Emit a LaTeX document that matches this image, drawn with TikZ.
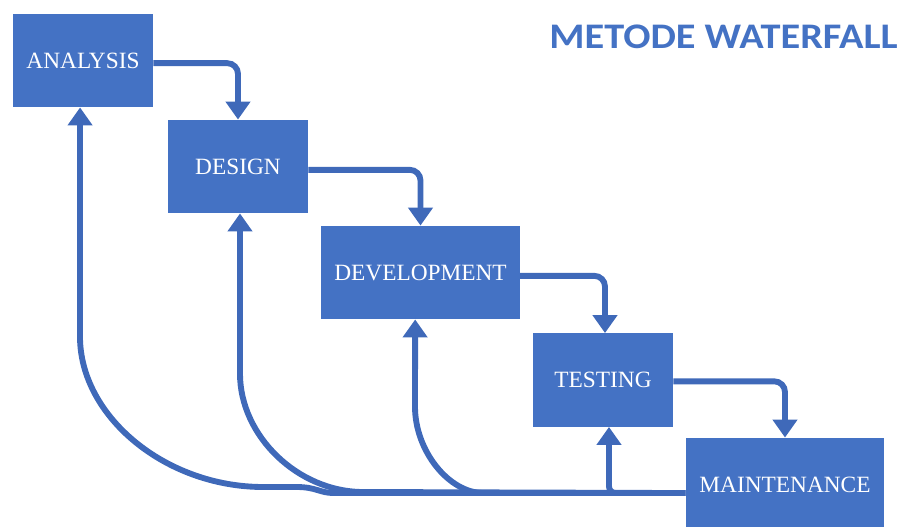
\documentclass[tikz,border=0pt]{standalone}
\usepackage{fontspec}
\setmainfont{Liberation Serif}
\newfontfamily\titlefont{Carlito}
\usepackage{tikz}
\usetikzlibrary{arrows.meta}

\definecolor{boxblue}{HTML}{4472C4}
\definecolor{lineblue}{HTML}{3F69B9}

\begin{document}
\begin{tikzpicture}[x=0.75pt,y=0.75pt,yscale=-1,xscale=1,
  phase/.style={fill=boxblue,draw=none,text=white,inner sep=0pt,
    font=\fontsize{17.5}{20}\selectfont},
  flow/.style={draw=lineblue,line width=4.4pt,rounded corners=8pt,
    -{Triangle[length=13.5pt,width=18pt]}},
  back/.style={flow,rounded corners=5pt}]
\useasboundingbox (0,0) rectangle (904,526);

% boxes
\node [phase,minimum width=105pt,minimum height=70pt] (ana) at (83,60.5) {ANALYSIS};
\node [phase,minimum width=105pt,minimum height=70pt] (des) at (238,166.5) {DESIGN};
\node [phase,minimum width=149pt,minimum height=70pt] (dev) at (420.5,272.5) {DEVELOPMENT};
\node [phase,minimum width=105pt,minimum height=70pt] (tst) at (603,380) {TESTING};
\node [phase,minimum width=149pt,minimum height=70pt] (mnt) at (785,484.5) {MAINTENANCE};

\node [anchor=base east,inner sep=0pt,text=boxblue,font=\titlefont\bfseries\fontsize{27}{32}\selectfont] (title) at (898,48) {\scalebox{1.12}[1]{METODE WATERFALL}};

% forward steps
\draw [flow] ([yshift=2pt]ana.east) -| (des.north);
\draw [flow] ([yshift=2.5pt]des.east) -| (dev.north);
\draw [flow] ([yshift=2.5pt]dev.east) -| ([xshift=1.5pt]tst.north);
\draw [flow] ([yshift=1pt]tst.east) -| (mnt.north);

% feedback
\coordinate (fb) at ([yshift=6.4pt]mnt.west);
\draw [back] (fb) -| ([xshift=4.5pt]tst.south);
\draw [back] (fb) -- (490,493) .. controls (449,493) and (415,451) .. (415,400) -- ([xshift=-4pt]dev.south);
\draw [back] (fb) -- (370,492) .. controls (298,492) and (240,436) .. (240,367) -- ([xshift=1.5pt]des.south);
\draw [back] (fb) -- (340,493) .. controls (320,493) and (316,487) .. (290,487) -- (270,487) .. controls (165,487) and (80,416) .. (80,330) -- ([xshift=-2.2pt]ana.south);
\end{tikzpicture}
\end{document}
